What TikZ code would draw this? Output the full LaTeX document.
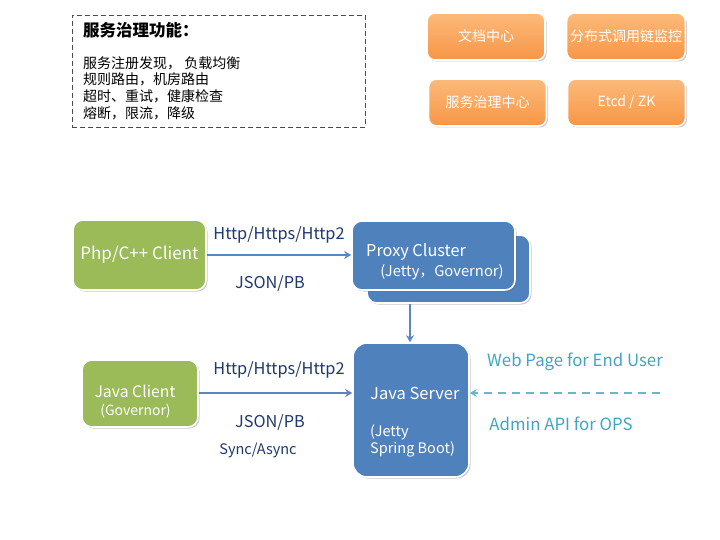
\documentclass[tikz,border=0pt]{standalone}
\usepackage{fontspec}
\setmainfont{Noto Sans CJK SC}
\usetikzlibrary{shadows,arrows.meta}
\definecolor{cgreen}{HTML}{9BBB59}
\definecolor{cblue}{HTML}{4F81BD}
\definecolor{corange}{HTML}{F79646}
\definecolor{corangel}{HTML}{FCBA7A}
\definecolor{carrow}{HTML}{5A87C4}
\definecolor{cnavy}{HTML}{1F3A6E}
\definecolor{cteal}{HTML}{3FA6C2}
\tikzset{
  box/.style={draw=white,line width=1.6pt,rounded corners=8pt,drop shadow={shadow xshift=1.5pt,shadow yshift=-1.5pt,opacity=0.35,fill=black!60}},
  greenbox/.style={box,fill=cgreen,rounded corners=10pt},
  bluebox/.style={box,fill=cblue,rounded corners=10pt},
  orangebox/.style={box,top color=corangel,bottom color=corange,text=white,font=\fontsize{14}{16}\selectfont,minimum width=118pt,minimum height=47pt},
  lbl/.style={text=cnavy,font=\fontsize{16.3}{18}\selectfont,inner sep=0pt},
  wlbl/.style={text=white,inner sep=0pt},
  tlbl/.style={text=cteal,font=\fontsize{16.8}{18}\selectfont,inner sep=0pt},
  conn/.style={draw=carrow,line width=1.5pt,-{Stealth[length=7pt,width=8pt]}},
}
\begin{document}
\begin{tikzpicture}[x=1pt,y=-1pt]
\useasboundingbox[fill=white] (0,0) rectangle (720,540);
% dashed box
\node[draw=black!70,dash pattern=on 5pt off 3pt,line width=0.9pt,minimum width=293pt,minimum height=112pt,anchor=north west,inner sep=0pt] (func) at (72,15) {};
\node[anchor=west,inner sep=0pt,font=\fontsize{16.5}{18}\selectfont\bfseries] (functitle) at (83,30) {服务治理功能：};
\node[anchor=north west,inner sep=0pt,align=left,font=\fontsize{14}{16.7}\selectfont] (funclist) at (83,56) {服务注册发现， 负载均衡\\规则路由，机房路由\\超时、重试，健康检查\\熔断，限流，降级};
% orange boxes
\node[orangebox] (doc) at (486,36.5) {文档中心};
\node[orangebox] (trace) at (626,36.5) {分布式调用链监控};
\node[orangebox] (gov) at (487.5,102.5) {服务治理中心};
\node[orangebox] (etcd) at (626.5,102.5) {Etcd / ZK};
% php client
\node[greenbox,minimum width=133pt,minimum height=70pt,text=white,font=\fontsize{17}{18}\selectfont] (php) at (139.5,255) {Php/C++ Client};
% proxy cluster
\node[bluebox,minimum width=163pt,minimum height=68pt] (proxyb) at (448.5,269) {};
\node[bluebox,minimum width=163pt,minimum height=69pt] (proxy) at (433.5,255.5) {};
\node[wlbl,anchor=west,font=\fontsize{16.3}{17}\selectfont] (proxyt) at (366,252) {Proxy Cluster};
\node[wlbl,font=\fontsize{14.8}{15}\selectfont] (proxys) at (442,272) {(Jetty，Governor)};
% java client
\node[greenbox,minimum width=116pt,minimum height=67pt] (jc) at (140,393.5) {};
\node[wlbl,font=\fontsize{15.8}{17}\selectfont] (jct) at (135,391) {Java Client};
\node[wlbl,font=\fontsize{14}{15}\selectfont] (jcs) at (135.5,411) {(Governor)};
% java server
\node[bluebox,rounded corners=14pt,minimum width=116pt,minimum height=134pt] (js) at (411,410) {};
\node[wlbl,anchor=west,font=\fontsize{16.5}{17}\selectfont] (jst) at (370,393) {Java Server};
\node[wlbl,anchor=west,align=left,font=\fontsize{14.5}{17}\selectfont] (jss) at (370,440.5) {(Jetty\\Spring Boot)};
% connectors
\draw[conn] (php.east) -- (proxy.west |- php.east);
\node[lbl] (l1) at (279,235) {Http/Https/Http2};
\node[lbl] (l2) at (270,283) {JSON/PB};
\draw[conn] (proxyb.south -| 410,0) -- (js.north -| 410,0);
\draw[conn] (jc.east |- 0,393) -- (js.west |- 0,393);
\node[lbl] (l3) at (279,370) {Http/Https/Http2};
\node[lbl] (l4) at (270,422) {JSON/PB};
\node[lbl,font=\fontsize{14.5}{15}\selectfont] (l5) at (258,450) {Sync/Async};
\coordinate (ext) at (660,393);
\draw[draw=cteal!80,line width=2pt,dash pattern=on 8pt off 6pt,-{Stealth[length=7pt,width=8pt]}] (ext) -- (js.east |- ext);
\node[tlbl] (w1) at (575,362) {Web Page for End User};
\node[tlbl] (w2) at (561,424) {Admin API for OPS};
\end{tikzpicture}
\end{document}
